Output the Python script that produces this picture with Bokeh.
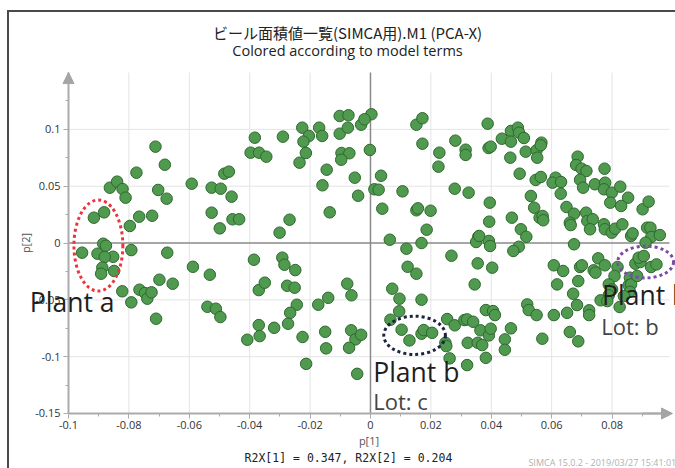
from bokeh.plotting import figure
from bokeh.models import (Range1d, FixedTicker, NumeralTickFormatter, Label,
                          Arrow, NormalHead, ColumnDataSource, LinearAxis)
from bokeh.embed import file_html
from bokeh.resources import INLINE

# ---------------- data ----------------
p1 = [
    -0.0712, -0.0681, -0.0775, -0.0863, -0.0839, -0.0821, -0.0811, -0.0703, -0.0675, -0.0916,
    -0.0882, -0.0797, -0.0766, -0.0723, -0.0592, -0.0526, -0.0496, -0.0460, -0.0526, -0.0499,
    -0.0457, -0.0435, -0.0484, -0.0469, -0.0383, -0.0397, -0.0369, -0.0345, -0.0290, -0.0268,
    -0.0301, -0.0226, -0.0204, -0.0222, -0.0214, -0.0235, -0.0170, -0.0160, -0.0145, -0.0159,
    -0.0135, -0.0102, -0.0075, -0.0096, -0.0070, -0.0097, -0.0052, -0.0041, -0.0031, -0.0002,
    -0.0102, -0.0073, 0.0003, -0.0020,
    -0.0955, -0.0904, -0.0885, -0.0876, -0.0852, -0.0880, -0.0888, -0.0892, -0.0849, -0.0792,
    -0.0673, -0.0822, -0.0792, -0.0765, -0.0747, -0.0739, -0.0725, -0.0699, -0.0655, -0.0710,
    -0.0588, -0.0532, -0.0540, -0.0512, -0.0497, -0.0386, -0.0370, -0.0350, -0.0370, -0.0367,
    -0.0408, -0.0319, -0.0292, -0.0285, -0.0249, -0.0276, -0.0251, -0.0244, -0.0266, -0.0273,
    -0.0225, -0.0213, -0.0173, -0.0140, -0.0150, -0.0147, -0.0077, -0.0063, -0.0064, -0.0050,
    -0.0031, -0.0071, -0.0044,
    0.0035, 0.0013, 0.0027, 0.0039, 0.0106, 0.0064, 0.0119, 0.0152, 0.0172, 0.0172,
    0.0228, 0.0225, 0.0152, 0.0157, 0.0199, 0.0186, 0.0169, 0.0279, 0.0325, 0.0281,
    0.0315, 0.0315, 0.0388, 0.0391, 0.0398, 0.0395, 0.0393, 0.0357, 0.0350, 0.0392,
    0.0396, 0.0435, 0.0465, 0.0488, 0.0492, 0.0465, 0.0508, 0.0463, 0.0514, 0.0550,
    0.0552, 0.0566, 0.0564, 0.0494, 0.0547, 0.0564, 0.0531, 0.0542, 0.0560, 0.0570,
    0.0572, 0.0468, 0.0498, 0.0516, 0.0491, 0.0473, 0.0613, 0.0603, 0.0631, 0.0630,
    0.0649, 0.0674, 0.0660, 0.0663, 0.0674, 0.0686, 0.0681, 0.0699, 0.0715, 0.0694,
    0.0704, 0.0714, 0.0718, 0.0736, 0.0727, 0.0743, 0.0775, 0.0777, 0.0773, 0.0799,
    0.0794, 0.0827, 0.0853, 0.0830, 0.0773, 0.0776, 0.0799, 0.0810, 0.0834, 0.0863,
    0.0868, 0.0901, 0.0921, 0.0916, 0.0927, 0.0930, 0.0911, 0.0958,
    0.0268, 0.0123, 0.0152, 0.0072, 0.0096, 0.0169, 0.0095, 0.0066, 0.0103, 0.0129,
    0.0169, 0.0176, 0.0204, 0.0254, 0.0279, 0.0248, 0.0251, 0.0262, 0.0320, 0.0311,
    0.0320, 0.0340, 0.0364, 0.0322, 0.0355, 0.0370, 0.0392, 0.0398, 0.0382, 0.0406,
    0.0412, 0.0382, 0.0445, 0.0445, 0.0465, 0.0360, 0.0355, 0.0403, 0.0345, 0.0519,
    0.0524, 0.0550, 0.0569, 0.0607, 0.0651, 0.0684, 0.0724, 0.0724, 0.0660, 0.0688,
    0.0607, 0.0638, 0.0618, 0.0688, 0.0671, 0.0694, 0.0700, 0.0754, 0.0739, 0.0745,
    0.0776, 0.0818, 0.0808, 0.0789, 0.0800, 0.0789, 0.0762, 0.0784, 0.0825, 0.0859,
    0.0855, 0.0863, 0.0883, 0.0859, 0.0839, 0.0877, 0.0894, 0.0888, 0.0905, 0.0929,
    0.0947,
]
p2 = [
    0.0848, 0.0689, 0.0619, 0.0487, 0.0540, 0.0475, 0.0399, 0.0467, 0.0390, 0.0223,
    0.0270, 0.0150, 0.0232, 0.0240, 0.0522, 0.0487, 0.0478, 0.0408, 0.0267, 0.0129,
    0.0209, 0.0209, 0.0610, 0.0628, 0.0927, 0.0795, 0.0795, 0.0760, 0.0936, 0.0205,
    0.0091, 0.1015, 0.0942, 0.0892, 0.0792, 0.0707, 0.1015, 0.0942, 0.0645, 0.0508,
    0.0270, 0.0962, 0.1015, 0.0792, 0.0790, 0.0733, 0.0575, 0.0416, 0.1041, 0.0819,
    0.1118, 0.1124, 0.1133, 0.1089,
    -0.0085, -0.0094, -0.0006, -0.0024, -0.0121, -0.0123, -0.0217, -0.0270, -0.0246, -0.0062,
    -0.0085, -0.0425, -0.0522, -0.0411, -0.0440, -0.0490, -0.0434, -0.0323, -0.0358, -0.0666,
    -0.0209, -0.0279, -0.0561, -0.0578, -0.0651, -0.0147, -0.0414, -0.0349, -0.0722, -0.0819,
    -0.0851, -0.0746, -0.0129, -0.0191, -0.0238, -0.0376, -0.0393, -0.0543, -0.0614, -0.0710,
    -0.0827, -0.1063, -0.0543, -0.0482, -0.0781, -0.0927, -0.0358, -0.0460, -0.0768, -0.0848,
    -0.0807, -0.0922, -0.1151,
    0.0592, 0.0473, 0.0469, 0.0302, 0.0455, 0.0029, -0.0050, 0.1041, 0.1098, 0.0874,
    0.0795, 0.0672, 0.0288, 0.0305, 0.0284, 0.0117, 0.0000, 0.0478, 0.0443, 0.0901,
    0.0821, 0.0775, 0.1050, 0.0836, 0.0848, 0.0355, 0.0188, 0.0055, 0.0009, 0.0018,
    -0.0026, 0.0918, 0.0986, 0.1015, 0.0971, 0.0892, 0.0924, 0.0751, 0.0804, 0.0816,
    0.0751, 0.0883, 0.0860, 0.0610, 0.0555, 0.0581, 0.0414, 0.0311, 0.0223, 0.0238,
    0.0200, 0.0223, 0.0121, 0.0055, -0.0033, -0.0070, 0.0575, 0.0531, 0.0537, 0.0434,
    0.0317, 0.0258, 0.0179, 0.0158, -0.0011, 0.0760, 0.0687, 0.0654, 0.0634, 0.0557,
    0.0487, 0.0267, 0.0194, 0.0209, 0.0121, 0.0517, 0.0654, 0.0531, 0.0473, 0.0443,
    0.0355, 0.0496, 0.0399, 0.0326, 0.0165, 0.0121, 0.0091, 0.0126, 0.0165, 0.0062,
    0.0085, 0.0297, 0.0364, 0.0135, 0.0135, 0.0053, 0.0003, 0.0070,
    -0.0112, -0.0209, -0.0270, -0.0402, -0.0490, -0.0499, -0.0601, -0.0675, -0.0763, -0.0857,
    -0.0798, -0.0766, -0.0790, -0.0669, -0.0724, -0.0878, -0.0907, -0.1015, -0.1074, -0.0678,
    -0.0672, -0.0693, -0.0768, -0.0878, -0.0878, -0.0898, -0.0813, -0.0754, -0.0590, -0.0599,
    -0.0634, -0.1010, -0.0848, -0.0939, -0.0751, 0.0062, -0.0179, -0.0217, -0.0364, -0.0540,
    -0.0590, -0.0634, -0.0842, -0.0634, -0.0614, -0.0546, -0.0592, -0.0634, -0.0783, -0.0865,
    -0.0196, -0.0246, -0.0364, -0.0335, -0.0446, -0.0211, -0.0196, -0.0135, -0.0240, -0.0261,
    -0.0196, -0.0211, -0.0290, -0.0364, -0.0408, -0.0460, -0.0504, -0.0511, -0.0563, -0.0305,
    -0.0372, -0.0364, -0.0290, -0.0429, -0.0467, -0.0182, -0.0167, -0.0129, -0.0114, -0.0211,
    -0.0188,
]

x_ticks = [-0.1, -0.08, -0.06, -0.04, -0.02, 0.0, 0.02, 0.04, 0.06, 0.08]
x_minor = [-0.09, -0.07, -0.05, -0.03, -0.01, 0.01, 0.03, 0.05, 0.07, 0.09]
y_ticks = [-0.15, -0.1, -0.05, 0.0, 0.05, 0.1]
y_minor = [-0.125, -0.075, -0.025, 0.025, 0.075, 0.125]
x_lim = (-0.1, 0.099)
y_lim = (-0.15, 0.15)

title1 = "ビール面積値一覧(SIMCA用).M1 (PCA-X)"
title2 = "Colored according to model terms"
r2x_text = "R2X[1] = 0.347, R2X[2] = 0.204"
simca_text = "SIMCA 15.0.2 - 2019/03/27 15:41:01 (UTC+09:00)"

# ---------------- figure ----------------
# the frame fills the whole canvas; axes are pinned at the plot-area edges
p = figure(width=668, height=458, output_backend="svg", toolbar_location=None,
           x_range=Range1d(-0.1202, 0.1010), y_range=Range1d(-0.1984, 0.2046),
           min_border_left=0, min_border_right=0, min_border_top=0, min_border_bottom=0,
           x_axis_location=None, y_axis_location=None)
p.outline_line_color = None
p.background_fill_alpha = 0
p.border_fill_alpha = 0
p.grid.visible = False
p.styles = {"margin-left": "7px", "margin-top": "10px",
            "box-shadow": "inset 2px 2px 0 #4a4a4a"}

xt = FixedTicker(ticks=x_ticks, minor_ticks=x_minor)
yt = FixedTicker(ticks=y_ticks, minor_ticks=y_minor)
xaxis = LinearAxis(ticker=xt, formatter=NumeralTickFormatter(format="0.[00]"),
                   fixed_location=y_lim[0], bounds=x_lim, axis_label="p[1]")
yaxis = LinearAxis(ticker=yt, formatter=NumeralTickFormatter(format="0.[00]"),
                   fixed_location=x_lim[0], bounds=y_lim, axis_label="p[2]")
for ax in (xaxis, yaxis):
    ax.axis_line_color = "#ababab"
    ax.axis_line_width = 2
    ax.major_tick_line_color = "#ababab"
    ax.minor_tick_line_color = "#ababab"
    ax.major_tick_in = 0
    ax.major_tick_out = 5
    ax.minor_tick_in = 0
    ax.minor_tick_out = 3
    ax.major_label_text_font = "Open Sans"
    ax.major_label_text_font_size = "11px"
    ax.major_label_text_color = "#333333"
    ax.major_label_standoff = 3
    ax.axis_label_text_font = "Open Sans"
    ax.axis_label_text_font_size = "11px"
    ax.axis_label_text_font_style = "normal"
    ax.axis_label_text_color = "#555555"
yaxis.axis_label_standoff = -1
xaxis.axis_label_standoff = 0
p.add_layout(xaxis, "below")
p.add_layout(yaxis, "left")

# grid lines (limited to the plot area), drawn at the tick positions
gx = [t for t in x_ticks if t not in (x_lim[0], 0.0)]
gy = [t for t in y_ticks if t not in (y_lim[0], 0.0)]
p.segment(x0=gx, y0=[y_lim[0]] * len(gx), x1=gx, y1=[y_lim[1]] * len(gx),
          line_color="#e4e4e4", line_width=1)
p.segment(x0=[x_lim[0]] * len(gy), y0=gy, x1=[x_lim[1]] * len(gy), y1=gy,
          line_color="#e4e4e4", line_width=1)
# zero lines
p.segment(x0=[0.0, x_lim[0]], y0=[y_lim[0], 0.0], x1=[0.0, x_lim[1]], y1=[y_lim[1], 0.0],
          line_color="#8a8a8a", line_width=1.5)

# axis arrows
p.add_layout(Arrow(end=NormalHead(size=11, fill_color="#a5a5a5", line_color="#a5a5a5"),
                   x_start=x_lim[0], y_start=0.14, x_end=x_lim[0], y_end=y_lim[1],
                   line_color="#ababab", line_width=2))
p.add_layout(Arrow(end=NormalHead(size=11, fill_color="#a5a5a5", line_color="#a5a5a5"),
                   x_start=0.09, y_start=y_lim[0], x_end=0.1, y_end=y_lim[0],
                   line_color="#ababab", line_width=2))

# points
src = ColumnDataSource(dict(x=p1, y=p2))
p.scatter("x", "y", source=src, size=11.5, fill_color="#4f9a4f", line_color="#2e682e",
          line_width=1)

# dotted ellipses
p.ellipse(x=[-0.0901], y=[-0.0022], width=0.0162, height=0.0801, fill_color=None,
          line_color="#f0323c", line_width=3, line_dash="3 3")
p.ellipse(x=[0.0146], y=[-0.0812], width=0.0204, height=0.0337, fill_color=None,
          line_color="#1b2540", line_width=3, line_dash="3 3")
p.ellipse(x=[0.0911], y=[-0.0167], width=0.0185, height=0.0280, fill_color=None,
          line_color="#7a4ca6", line_width=3, line_dash="3 3")


# annotation texts
def lab(x, y, text, size, color, font="Open Sans", align="left", baseline="middle"):
    p.add_layout(Label(x=x, y=y, text=text, text_font=font, text_font_size=size,
                       text_color=color, text_align=align, text_baseline=baseline))


lab(-0.1128, -0.0523, "Plant a", "26.5px", "#1e1e1e")
lab(0.0009, -0.1131, "Plant b", "26.5px", "#1e1e1e")
lab(0.0009, -0.1394, "Lot: c", "22px", "#444444")
lab(0.0767, -0.0453, "Plant b", "26.5px", "#1e1e1e")
lab(0.0764, -0.0726, "Lot: b", "22px", "#444444")

# titles and footer texts
lab(-0.0076, 0.1849, title1, "15px", "#222222", font="Noto Sans CJK JP", align="center")
lab(-0.0076, 0.1690, title2, "14.5px", "#222222", align="center")
lab(-0.0073, -0.1893, r2x_text, "11.5px", "#222222", font="DejaVu Sans Mono",
    align="center")
lab(0.0523, -0.1984, simca_text, "9px", "#b0b0b0", baseline="bottom")

open("out.html", "w").write(file_html(p, INLINE))
